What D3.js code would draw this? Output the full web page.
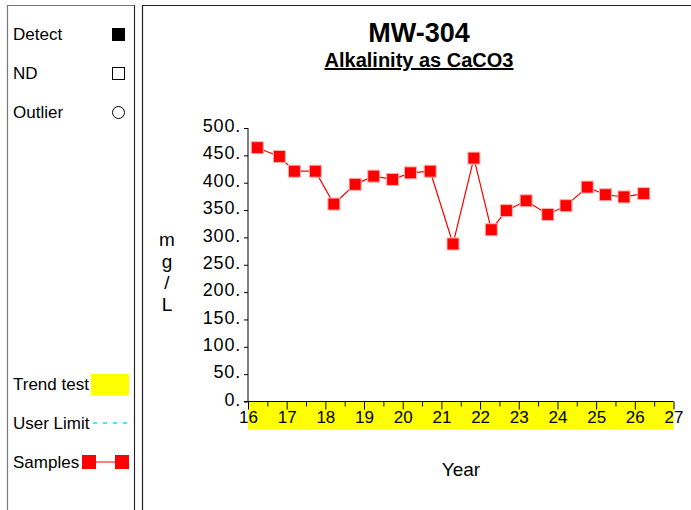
<!DOCTYPE html>
<html><head><meta charset="utf-8">
<script src="https://cdn.jsdelivr.net/npm/d3@7"></script>
<style>body{margin:0;background:#fff;} svg{display:block;font-family:Arial,"Liberation Sans",sans-serif;}</style>
</head><body>
<svg id="c" width="691" height="510"></svg>
<script>
const dates = [16.24,16.81,17.20,17.74,18.22,18.77,19.25,19.74,20.20,20.71,21.30,21.84,22.29,22.68,23.19,23.75,24.22,24.77,25.24,25.72,26.23];
const values = [464,448,421,421,361,397,412,406,418,421,288,445,314,349,367,342,358,392,378,374,380];
const yTicks = [0,50,100,150,200,250,300,350,400,450,500];
const xTicks = [16,17,18,19,20,21,22,23,24,25,26,27];
const title = "MW-304";
const subtitle = "Alkalinity as CaCO3";
const yLabel = ["m","g","/","L"];
const xLabel = "Year";

const svg = d3.select("#c");
// panels
svg.append("path").attr("d","M7.5,510 V5.5 H134.5 V510").attr("fill","none").attr("stroke","#777").attr("stroke-width",1.2);
svg.append("line").attr("x1",134.5).attr("x2",134.5).attr("y1",5.5).attr("y2",510).attr("stroke","#222");
svg.append("path").attr("d","M142.5,510 V5.5 H691").attr("fill","none").attr("stroke","#222").attr("stroke-width",1.2);

// legend
const lg = svg.append("g").attr("font-size",17).attr("fill","#000");
lg.append("text").attr("x",13).attr("y",40).text("Detect");
lg.append("rect").attr("x",112).attr("y",28).attr("width",13).attr("height",13).attr("fill","#000");
lg.append("text").attr("x",13).attr("y",79).text("ND");
lg.append("rect").attr("x",112.5).attr("y",67.5).attr("width",12).attr("height",12).attr("fill","none").attr("stroke","#000");
lg.append("text").attr("x",13).attr("y",118).text("Outlier");
lg.append("circle").attr("cx",118.5).attr("cy",112.5).attr("r",6).attr("fill","none").attr("stroke","#000");
lg.append("text").attr("x",13).attr("y",390).text("Trend test");
lg.append("rect").attr("x",91).attr("y",374).attr("width",38).attr("height",21).attr("fill","#ffff00");
lg.append("text").attr("x",13).attr("y",429).text("User Limit");
lg.append("line").attr("x1",93).attr("x2",129).attr("y1",423).attr("y2",423).attr("stroke","#00e5ff").attr("stroke-dasharray","4,6").attr("stroke-width",1.5);
lg.append("text").attr("x",13).attr("y",468).text("Samples");
lg.append("line").attr("x1",88).attr("x2",122).attr("y1",462).attr("y2",462).attr("stroke","#ff0000");
lg.append("rect").attr("x",82).attr("y",455).attr("width",14).attr("height",14).attr("fill","#ff0000");
lg.append("rect").attr("x",115).attr("y",455).attr("width",14).attr("height",14).attr("fill","#ff0000");

// titles
svg.append("text").attr("x",419).attr("y",42).attr("text-anchor","middle").attr("font-size",27).attr("font-weight","bold").text(title);
svg.append("text").attr("x",419).attr("y",67).attr("text-anchor","middle").attr("font-size",20).attr("font-weight","bold").attr("text-decoration","underline").text(subtitle);

// scales
const x = d3.scaleLinear().domain([16,27]).range([248,673.5]);
const y = d3.scaleLinear().domain([0,500]).range([401.5,128]);

// trend band
svg.append("rect").attr("x",x(16)).attr("y",y(0)).attr("width",x(27)-x(16)).attr("height",28).attr("fill","#ffff00");

// y axis
const ya = svg.append("g").attr("transform",`translate(${x(16)},0)`)
  .call(d3.axisLeft(y).tickValues(yTicks).tickFormat(d=>d+".").tickSize(4).tickPadding(3));
ya.select(".domain").attr("stroke","#000").attr("d",`M0,${y(500)}V${y(0)}`);
ya.selectAll("text").attr("font-size",18).attr("letter-spacing","0.8px").attr("font-family","Arial,'Liberation Sans',sans-serif").attr("fill","#000").attr("dy","0.2em");

// x axis
const minor = d3.range(16.5,27,1);
svg.append("g").attr("transform",`translate(0,${y(0)})`)
  .call(d3.axisBottom(x).tickValues(minor).tickFormat("").tickSize(5))
  .select(".domain").remove();
const xa = svg.append("g").attr("transform",`translate(0,${y(0)})`)
  .call(d3.axisBottom(x).tickValues(xTicks).tickFormat(d3.format("d")).tickSize(8).tickSizeOuter(0).tickPadding(1));
xa.select(".domain").attr("d",`M${x(16)-4},0H${x(27)}`);
xa.selectAll("text").attr("font-size",17).attr("font-family","Arial,'Liberation Sans',sans-serif").attr("fill","#000");

// labels
svg.append("g").selectAll("text").data(yLabel).join("text")
  .attr("x",167).attr("y",(d,i)=>246+i*21.5).attr("text-anchor","middle").attr("font-size",19).text(d=>d);
svg.append("text").attr("x",461).attr("y",476).attr("text-anchor","middle").attr("font-size",19).text(xLabel);

// series
const line = d3.line().x((d,i)=>x(dates[i])).y(d=>y(d));
svg.append("path").datum(values).attr("d",line).attr("fill","none").attr("stroke","#ff0000").attr("stroke-width",1.2);
svg.append("g").selectAll("rect").data(values).join("rect")
  .attr("x",(d,i)=>x(dates[i])-6).attr("y",d=>y(d)-6).attr("width",12).attr("height",12)
  .attr("fill","#ff0000").attr("stroke","#ffb0b0").attr("stroke-width",1);
</script>
</body></html>
